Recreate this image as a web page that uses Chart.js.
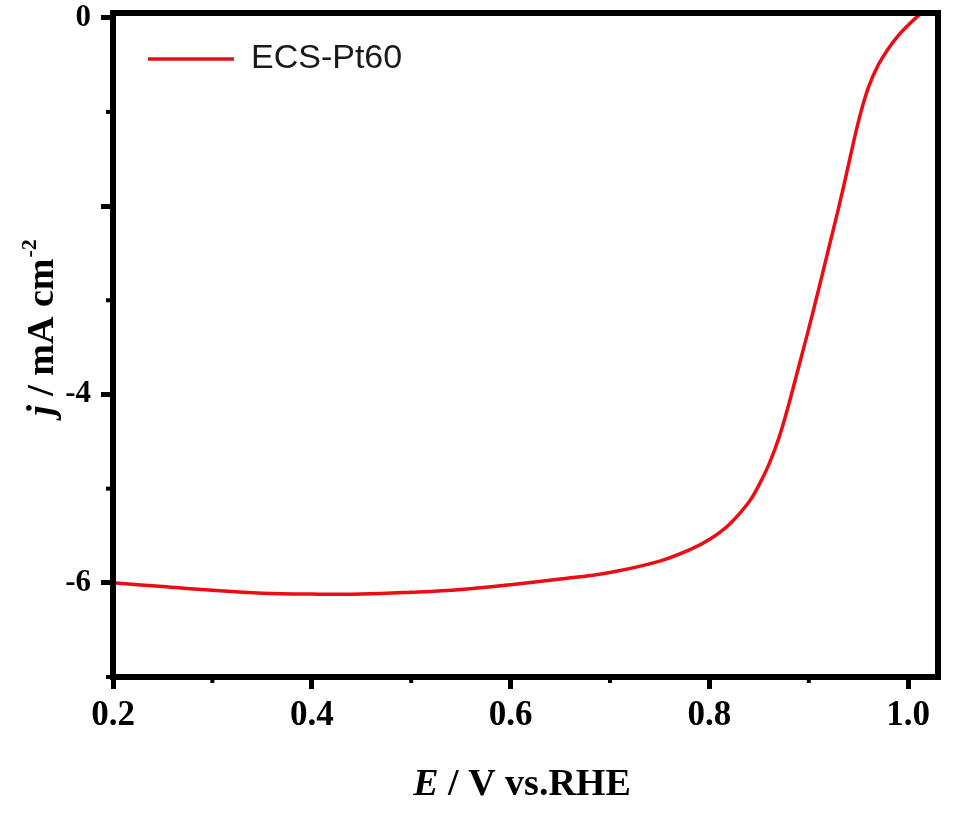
<!DOCTYPE html>
<html>
<head>
<meta charset="utf-8">
<title>ECS-Pt60 LSV</title>
<script src="https://cdn.jsdelivr.net/npm/chart.js@4.4.1/dist/chart.umd.min.js"></script>
<style>
  html, body { margin: 0; padding: 0; background: #fff; }
  #wrap { width: 960px; height: 814px; }
</style>
</head>
<body>
<div id="wrap"><canvas id="lsvChart" width="960" height="814"></canvas></div>
<script>
// Potential (V vs. RHE) and current density (mA cm-2)
const potential = [0.20, 0.25, 0.30, 0.35, 0.40, 0.45, 0.50, 0.55, 0.60, 0.65,
    0.70, 0.75, 0.78, 0.80, 0.82, 0.84, 0.85, 0.86, 0.87, 0.88,
    0.89, 0.90, 0.91, 0.92, 0.93, 0.94, 0.95, 0.96, 0.97, 0.98,
    0.99, 1.00, 1.01, 1.02];
const currentDensity = [-6.00, -6.04, -6.08, -6.11, -6.12, -6.12, -6.10, -6.07, -6.02, -5.96,
    -5.89, -5.77, -5.65, -5.54, -5.38, -5.14, -4.96, -4.74, -4.46, -4.10,
    -3.70, -3.30, -2.88, -2.45, -2.02, -1.56, -1.10, -0.74, -0.50, -0.33,
    -0.19, -0.08, 0.02, 0.10];

const seriesLabel = 'ECS-Pt60';
const xTickLabels = ['0.2', '0.4', '0.6', '0.8', '1.0'];
const yTickLabels = ['0', '-4', '-6'];

const BLACK = '#000000';
const RED = '#ec0c12';

function isMajorX(v) {
    return Math.round(v * 10) % 2 === 0;
}
function isMajorY(v) {
    return Math.round(v) % 2 === 0;
}

// Frame, minor ticks and axis titles (titles mix italic and superscript)
const framePlugin = {
    id: 'frame',
    afterLayout(chart) {
        // nudge the in-plot legend to where it sits in the figure
        const lg = chart.legend;
        if (lg) {
            lg.top += 7;
            lg.bottom += 7;
        }
    },
    afterDraw(chart) {
        const ctx = chart.ctx;
        const area = chart.chartArea;
        const xs = chart.scales.x;
        const ys = chart.scales.y;
        ctx.save();

        // minor ticks
        ctx.strokeStyle = BLACK;
        ctx.lineWidth = 4;
        xs.ticks.forEach(t => {
            if (!isMajorX(t.value)) {
                const px = xs.getPixelForValue(t.value);
                ctx.beginPath();
                ctx.moveTo(px, area.bottom);
                ctx.lineTo(px, area.bottom + 6);
                ctx.stroke();
            }
        });
        ys.ticks.forEach(t => {
            if (!isMajorY(t.value)) {
                const py = ys.getPixelForValue(t.value);
                ctx.beginPath();
                ctx.moveTo(area.left, py);
                ctx.lineTo(area.left - 7, py);
                ctx.stroke();
            }
        });

        // box
        ctx.lineWidth = 6;
        ctx.strokeRect(area.left, area.top, area.right - area.left, area.bottom - area.top);

        // x title: E / V vs.RHE
        ctx.fillStyle = BLACK;
        ctx.textBaseline = 'alphabetic';
        ctx.textAlign = 'left';
        const fam = "'Liberation Serif', 'Times New Roman', serif";
        const xPart1 = 'E';
        const xPart2 = ' / V vs.RHE';
        ctx.font = 'italic bold 38px ' + fam;
        const w1 = ctx.measureText(xPart1).width;
        ctx.font = 'bold 38px ' + fam;
        const w2 = ctx.measureText(xPart2).width;
        let x0 = 522 - (w1 + w2) / 2;
        ctx.font = 'italic bold 38px ' + fam;
        ctx.fillText(xPart1, x0, 795);
        ctx.font = 'bold 38px ' + fam;
        ctx.fillText(xPart2, x0 + w1, 795);

        // y title: j / mA cm-2
        ctx.translate(53, 328);
        ctx.rotate(-Math.PI / 2);
        const yPart1 = 'j';
        const yPart2 = ' / mA cm';
        const yPart3 = '-2';
        ctx.font = 'italic bold 38px ' + fam;
        const v1 = ctx.measureText(yPart1).width;
        ctx.font = 'bold 38px ' + fam;
        const v2 = ctx.measureText(yPart2).width;
        ctx.font = 'bold 22px ' + fam;
        const v3 = ctx.measureText(yPart3).width;
        let s = -(v1 + v2 + v3) / 2;
        ctx.font = 'italic bold 38px ' + fam;
        ctx.fillText(yPart1, s, 0);
        ctx.font = 'bold 38px ' + fam;
        ctx.fillText(yPart2, s + v1, 0);
        ctx.font = 'bold 22px ' + fam;
        ctx.fillText(yPart3, s + v1 + v2 + 1, -17);

        ctx.restore();
    }
};

const ctx = document.getElementById('lsvChart').getContext('2d');
new Chart(ctx, {
    type: 'line',
    data: {
        datasets: [{
            label: seriesLabel,
            data: potential.map((e, i) => ({ x: e, y: currentDensity[i] })),
            borderColor: RED,
            backgroundColor: RED,
            borderWidth: 3.5,
            pointRadius: 0,
            tension: 0.4,
            fill: false
        }]
    },
    options: {
        responsive: false,
        animation: false,
        layout: { padding: { left: 0, right: 22, top: 13, bottom: 0 } },
        plugins: {
            legend: {
                position: 'chartArea',
                align: 'start',
                labels: {
                    usePointStyle: true,
                    pointStyle: 'line',
                    pointStyleWidth: 86,
                    padding: 35,
                    color: '#1a1a1a',
                    font: { family: "'Liberation Sans', Arial, sans-serif", size: 34 }
                }
            },
            tooltip: { enabled: false }
        },
        scales: {
            x: {
                type: 'linear',
                min: 0.2,
                max: 1.03,
                border: { display: false },
                grid: {
                    drawOnChartArea: false,
                    tickLength: 12,
                    tickWidth: 5,
                    tickColor: c => isMajorX(c.tick.value) ? BLACK : 'rgba(0,0,0,0)'
                },
                ticks: {
                    stepSize: 0.1,
                    includeBounds: false,
                    autoSkip: false,
                    maxRotation: 0,
                    padding: 6,
                    color: BLACK,
                    font: { family: "'Liberation Serif', 'Times New Roman', serif", size: 35, weight: 'bold' },
                    callback: v => {
                        const lbl = (Math.round(v * 10) / 10).toFixed(1);
                        return xTickLabels.includes(lbl) ? lbl : '';
                    }
                },
                afterFit: scale => {
                    scale.height = 137;
                    scale.paddingLeft = 0;
                    scale.paddingRight = 0;
                }
            },
            y: {
                type: 'linear',
                min: -7,
                max: 0.05,
                border: { display: false },
                grid: {
                    drawOnChartArea: false,
                    tickLength: 12,
                    tickWidth: 5,
                    tickColor: c => isMajorY(c.tick.value) ? BLACK : 'rgba(0,0,0,0)'
                },
                ticks: {
                    stepSize: 1,
                    includeBounds: false,
                    autoSkip: false,
                    padding: 10,
                    color: BLACK,
                    font: { family: "'Liberation Serif', 'Times New Roman', serif", size: 31, weight: 'bold' },
                    callback: v => {
                        const lbl = String(Math.round(v));
                        return yTickLabels.includes(lbl) ? lbl : '';
                    }
                },
                afterFit: scale => {
                    scale.width = 113;
                    scale.paddingTop = 0;
                    scale.paddingBottom = 0;
                }
            }
        }
    },
    plugins: [framePlugin]
});
</script>
</body>
</html>
